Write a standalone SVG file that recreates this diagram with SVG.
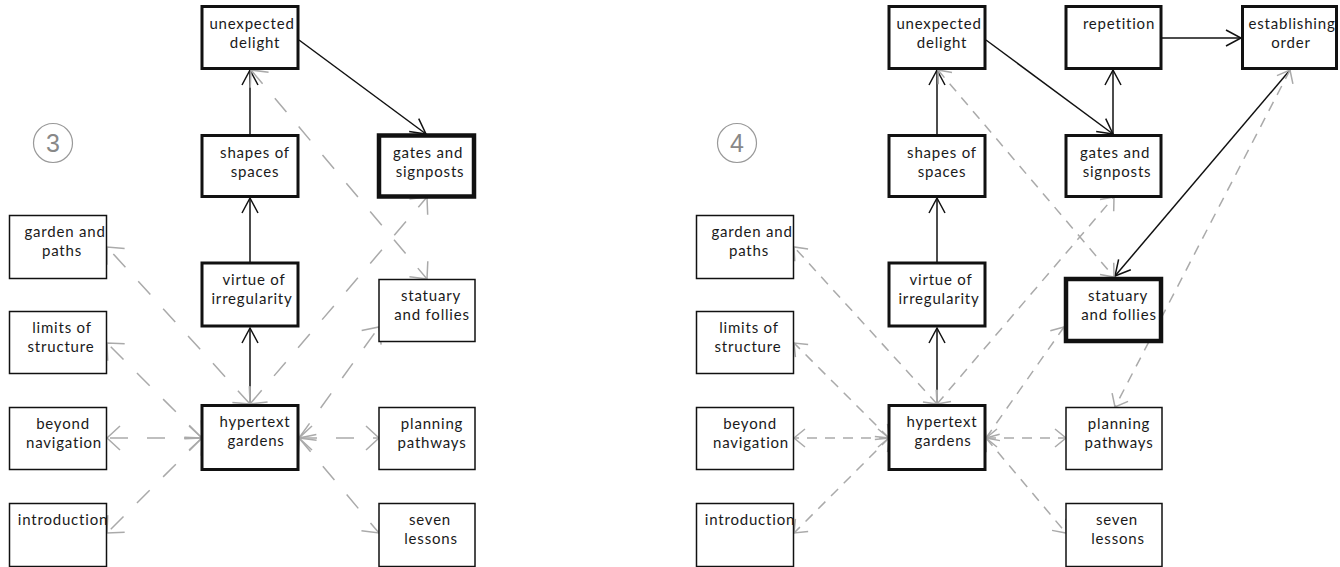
<svg xmlns="http://www.w3.org/2000/svg" width="1340" height="567" viewBox="0 0 1340 567">
  <style>
    .box { fill: #fff; stroke: #111; }
    .thin { stroke-width: 1.5; }
    .thick { stroke-width: 3; }
    .heavy { stroke-width: 4.5; }
    .lbl { font-family: Lato, "Liberation Sans", sans-serif; font-size: 15px; fill: #1a1a1a; text-anchor: middle; letter-spacing: 0.8px; }
    .solid { stroke: #111; stroke-width: 1.5; fill: none; marker-end: url(#arrB); }
    .dashL { stroke: #aaa; stroke-width: 1.5; fill: none; stroke-dasharray: 18 19; marker-start: url(#arrG); marker-end: url(#arrG); }
    .dashR { stroke: #aaa; stroke-width: 1.5; fill: none; stroke-dasharray: 10 8; marker-start: url(#arrG2); marker-end: url(#arrG2); }
    .step { fill: none; stroke: #999; stroke-width: 1.2; }
    .stepnum { font-family: "Liberation Sans", Arial, sans-serif; font-size: 25px; fill: #888; text-anchor: middle; }
  </style>
  <defs>
    <marker id="arrB" markerUnits="userSpaceOnUse" markerWidth="20" markerHeight="20" viewBox="-17 -10 20 20" refX="0" refY="0" orient="auto-start-reverse">
      <path d="M-15,-8 L0,0 L-15,8" fill="none" stroke="#111" stroke-width="1.5"/>
    </marker>
    <marker id="arrG" markerUnits="userSpaceOnUse" markerWidth="20" markerHeight="30" viewBox="-16 -15 20 30" refX="0" refY="0" orient="auto-start-reverse">
      <path d="M-13,-12 L0,0 L-13,12" fill="none" stroke="#aaa" stroke-width="1.5"/>
    </marker>
    <marker id="arrG2" markerUnits="userSpaceOnUse" markerWidth="20" markerHeight="24" viewBox="-14 -12 20 24" refX="0" refY="0" orient="auto-start-reverse">
      <path d="M-11,-9 L0,0 L-11,9" fill="none" stroke="#aaa" stroke-width="1.5"/>
    </marker>
  </defs>
  <rect width="1340" height="567" fill="#fff"/>

  <!-- ===== Panel 3 ===== -->
  <g id="step3">
    <circle class="step" cx="53" cy="143" r="19.5"/>
    <text class="stepnum" x="53" y="152">3</text>
  </g>

  <g id="p3-connectors">
    <line class="solid" x1="250" y1="134" x2="250" y2="70"/>
    <line class="solid" x1="250" y1="262" x2="250" y2="198"/>
    <line class="solid" x1="250" y1="404" x2="250" y2="328"/>
    <line class="solid" x1="299" y1="40" x2="426" y2="134"/>
    <line class="dashL" x1="250" y1="404" x2="107" y2="247"/>
    <line class="dashL" x1="202" y1="438" x2="107" y2="343"/>
    <line class="dashL" x1="202" y1="438" x2="107" y2="438"/>
    <line class="dashL" x1="202" y1="438" x2="107" y2="533"/>
    <line class="dashL" x1="250" y1="404" x2="427" y2="197"/>
    <line class="dashL" x1="251" y1="70" x2="427" y2="279"/>
    <line class="dashL" x1="299" y1="438" x2="379" y2="327"/>
    <line class="dashL" x1="299" y1="438" x2="379" y2="438"/>
    <line class="dashL" x1="299" y1="438" x2="379" y2="533"/>
  </g>

  <g id="p3-unexpected-delight">
    <rect class="box thick" x="202" y="6.5" width="96" height="62"/>
    <text class="lbl" x="252" y="29">unexpected</text>
    <text class="lbl" x="255" y="48">delight</text>
  </g>
  <g id="p3-shapes-of-spaces">
    <rect class="box thick" x="202" y="135.5" width="96" height="61"/>
    <text class="lbl" x="255" y="158">shapes of</text>
    <text class="lbl" x="255" y="177">spaces</text>
  </g>
  <g id="p3-gates-and-signposts">
    <rect class="box heavy" x="379" y="135.5" width="95" height="61"/>
    <text class="lbl" x="428" y="158">gates and</text>
    <text class="lbl" x="430" y="177">signposts</text>
  </g>
  <g id="p3-virtue-of-irregularity">
    <rect class="box thick" x="202" y="263" width="96" height="63"/>
    <text class="lbl" x="254" y="285">virtue of</text>
    <text class="lbl" x="252" y="304">irregularity</text>
  </g>
  <g id="p3-hypertext-gardens">
    <rect class="box thick" x="202" y="405.5" width="96" height="64"/>
    <text class="lbl" x="255" y="427">hypertext</text>
    <text class="lbl" x="256" y="446">gardens</text>
  </g>
  <g id="p3-garden-and-paths">
    <rect class="box thin" x="9.5" y="215.5" width="97" height="63"/>
    <text class="lbl" x="65" y="237">garden and</text>
    <text class="lbl" x="62" y="256">paths</text>
  </g>
  <g id="p3-limits-of-structure">
    <rect class="box thin" x="9.5" y="311.5" width="97" height="62"/>
    <text class="lbl" x="62" y="333">limits of</text>
    <text class="lbl" x="61" y="352">structure</text>
  </g>
  <g id="p3-beyond-navigation">
    <rect class="box thin" x="9.5" y="407.5" width="97" height="62"/>
    <text class="lbl" x="63" y="429">beyond</text>
    <text class="lbl" x="64" y="448">navigation</text>
  </g>
  <g id="p3-introduction">
    <rect class="box thin" x="9.5" y="503.5" width="97" height="63"/>
    <text class="lbl" x="63" y="525">introduction</text>
  </g>
  <g id="p3-statuary-and-follies">
    <rect class="box thin" x="379" y="279.5" width="96" height="62"/>
    <text class="lbl" x="431" y="301">statuary</text>
    <text class="lbl" x="432" y="320">and follies</text>
  </g>
  <g id="p3-planning-pathways">
    <rect class="box thin" x="379" y="407.5" width="96" height="62"/>
    <text class="lbl" x="432" y="429">planning</text>
    <text class="lbl" x="432" y="448">pathways</text>
  </g>
  <g id="p3-seven-lessons">
    <rect class="box thin" x="379" y="503.5" width="96" height="63"/>
    <text class="lbl" x="430" y="525">seven</text>
    <text class="lbl" x="431" y="544">lessons</text>
  </g>

  <!-- ===== Panel 4 ===== -->
  <g id="step4">
    <circle class="step" cx="737" cy="143" r="19.5"/>
    <text class="stepnum" x="737" y="152">4</text>
  </g>

  <g id="p4-connectors">
    <line class="solid" x1="937" y1="134" x2="937" y2="70"/>
    <line class="solid" x1="937" y1="262" x2="937" y2="198"/>
    <line class="solid" x1="937" y1="404" x2="937" y2="328"/>
    <line class="solid" x1="986" y1="40" x2="1113" y2="134"/>
    <line class="solid" x1="1113" y1="134" x2="1113" y2="70"/>
    <line class="solid" x1="1162" y1="38" x2="1241" y2="38"/>
    <line class="solid" x1="1290" y1="70" x2="1115" y2="276"/>
    <line class="dashR" x1="1290" y1="70" x2="1115" y2="407"/>
    <line class="dashR" x1="937" y1="404" x2="794" y2="247"/>
    <line class="dashR" x1="889" y1="438" x2="794" y2="343"/>
    <line class="dashR" x1="889" y1="438" x2="794" y2="438"/>
    <line class="dashR" x1="889" y1="438" x2="794" y2="533"/>
    <line class="dashR" x1="937" y1="404" x2="1114" y2="197"/>
    <line class="dashR" x1="938" y1="70" x2="1114" y2="277"/>
    <line class="dashR" x1="986" y1="438" x2="1064" y2="327"/>
    <line class="dashR" x1="986" y1="438" x2="1066" y2="438"/>
    <line class="dashR" x1="986" y1="438" x2="1066" y2="533"/>
  </g>

  <g id="p4-unexpected-delight">
    <rect class="box thick" x="889" y="6.5" width="96" height="62"/>
    <text class="lbl" x="939" y="29">unexpected</text>
    <text class="lbl" x="942" y="48">delight</text>
  </g>
  <g id="p4-repetition">
    <rect class="box thick" x="1066" y="6.5" width="95" height="62"/>
    <text class="lbl" x="1119" y="29">repetition</text>
  </g>
  <g id="p4-establishing-order">
    <rect class="box thick" x="1242.5" y="6.5" width="94" height="62"/>
    <text class="lbl" x="1292" y="29">establishing</text>
    <text class="lbl" x="1291" y="48">order</text>
  </g>
  <g id="p4-shapes-of-spaces">
    <rect class="box thick" x="889" y="135.5" width="96" height="61"/>
    <text class="lbl" x="942" y="158">shapes of</text>
    <text class="lbl" x="942" y="177">spaces</text>
  </g>
  <g id="p4-gates-and-signposts">
    <rect class="box thick" x="1066" y="135.5" width="95" height="61"/>
    <text class="lbl" x="1115" y="158">gates and</text>
    <text class="lbl" x="1117" y="177">signposts</text>
  </g>
  <g id="p4-virtue-of-irregularity">
    <rect class="box thick" x="889" y="263" width="96" height="63"/>
    <text class="lbl" x="941" y="285">virtue of</text>
    <text class="lbl" x="939" y="304">irregularity</text>
  </g>
  <g id="p4-hypertext-gardens">
    <rect class="box thick" x="889" y="405.5" width="96" height="64"/>
    <text class="lbl" x="942" y="427">hypertext</text>
    <text class="lbl" x="943" y="446">gardens</text>
  </g>
  <g id="p4-garden-and-paths">
    <rect class="box thin" x="696.5" y="215.5" width="97" height="63"/>
    <text class="lbl" x="752" y="237">garden and</text>
    <text class="lbl" x="749" y="256">paths</text>
  </g>
  <g id="p4-limits-of-structure">
    <rect class="box thin" x="696.5" y="311.5" width="97" height="62"/>
    <text class="lbl" x="749" y="333">limits of</text>
    <text class="lbl" x="748" y="352">structure</text>
  </g>
  <g id="p4-beyond-navigation">
    <rect class="box thin" x="696.5" y="407.5" width="97" height="62"/>
    <text class="lbl" x="750" y="429">beyond</text>
    <text class="lbl" x="751" y="448">navigation</text>
  </g>
  <g id="p4-introduction">
    <rect class="box thin" x="696.5" y="503.5" width="97" height="63"/>
    <text class="lbl" x="750" y="525">introduction</text>
  </g>
  <g id="p4-statuary-and-follies">
    <rect class="box heavy" x="1066" y="279" width="95" height="62"/>
    <text class="lbl" x="1118" y="301">statuary</text>
    <text class="lbl" x="1119" y="320">and follies</text>
  </g>
  <g id="p4-planning-pathways">
    <rect class="box thin" x="1066" y="407.5" width="96" height="62"/>
    <text class="lbl" x="1119" y="429">planning</text>
    <text class="lbl" x="1119" y="448">pathways</text>
  </g>
  <g id="p4-seven-lessons">
    <rect class="box thin" x="1066" y="503.5" width="96" height="63"/>
    <text class="lbl" x="1117" y="525">seven</text>
    <text class="lbl" x="1118" y="544">lessons</text>
  </g>
</svg>
